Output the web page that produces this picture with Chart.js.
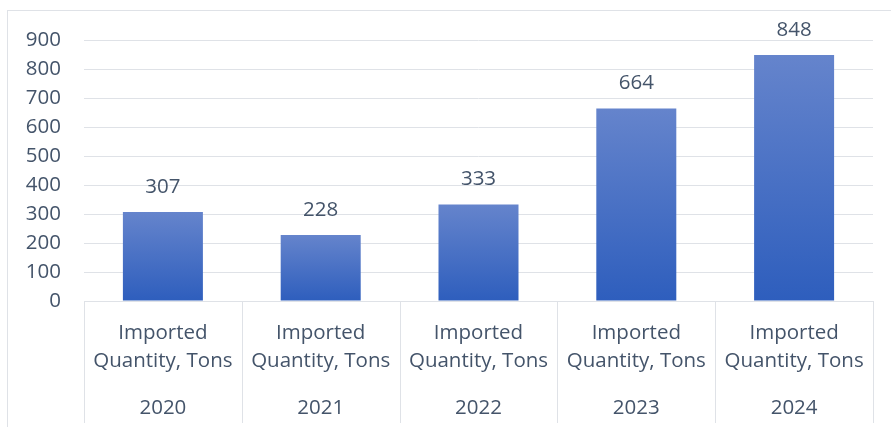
<!DOCTYPE html>
<html>
<head>
<meta charset="utf-8">
<script src="https://cdn.jsdelivr.net/npm/chart.js@4.4.1/dist/chart.umd.min.js"></script>
<style>
html,body{margin:0;padding:0;background:#fff;overflow:hidden}
#wrap{position:relative;width:891px;height:427px}
</style>
</head>
<body>
<div id="wrap"><canvas id="chart"></canvas></div>
<script>
// data
const years = ["2020","2021","2022","2023","2024"]
const seriesName = ["Imported","Quantity, Tons"]
const quantities = [307, 228, 333, 664, 848]
const yTicks = [0,100,200,300,400,500,600,700,800,900]

const textColor = "#44546a"
const lineColor = "#dfe2e7"
const fontFamily = "'Open Sans', sans-serif"
const fontSize = 20.5

// bar gradient (lighter at top, per bar)
function barFill(ctx){
  const chart = ctx.chart
  const y = chart.scales.y
  if(!y || ctx.raw === undefined) return "#4a72c8"
  const top = y.getPixelForValue(ctx.raw)
  const bottom = y.getPixelForValue(0)
  if(!isFinite(top) || !isFinite(bottom) || top === bottom) return "#4a72c8"
  const g = chart.ctx.createLinearGradient(0, top, 0, bottom)
  g.addColorStop(0, "#6584cc")
  g.addColorStop(1, "#2e5ebd")
  return g
}

// frame, category separators, value labels
const extras = {
  id:"extras",
  beforeDraw(chart){
    const c = chart.ctx
    c.save()
    c.strokeStyle = lineColor
    c.lineWidth = 1
    c.strokeRect(7.5, 10.5, 1000, 1000)
    c.restore()
  },
  afterDraw(chart){
    const c = chart.ctx
    const x = chart.scales.x
    const y = chart.scales.y
    const half = (x.getPixelForValue(1) - x.getPixelForValue(0)) / 2
    c.save()
    c.strokeStyle = lineColor
    c.lineWidth = 1
    for(let i=0;i<=years.length;i++){
      const px = Math.round(x.getPixelForValue(i) - half) + 0.5
      c.beginPath()
      c.moveTo(px, y.bottom)
      c.lineTo(px, 423)
      c.stroke()
    }
    c.fillStyle = textColor
    c.font = fontSize + "px " + fontFamily
    c.textAlign = "center"
    c.textBaseline = "middle"
    chart.getDatasetMeta(0).data.forEach((bar,i)=>{
      c.fillText(String(quantities[i]), bar.x, bar.y - 25)
    })
    c.restore()
  }
}

new Chart(document.getElementById("chart"),{
  type:"bar",
  data:{
    labels:years,
    datasets:[{
      label:seriesName.join(" "),
      data:quantities,
      backgroundColor:barFill,
      barPercentage:0.507,
      categoryPercentage:1
    }]
  },
  options:{
    responsive:true,
    maintainAspectRatio:false,
    animation:false,
    layout:{padding:{left:0,right:18,top:40,bottom:0}},
    plugins:{legend:{display:false},tooltip:{enabled:false}},
    scales:{
      x:{
        type:"category",
        position:"bottom",
        weight:0,
        grid:{display:true,drawOnChartArea:false,drawTicks:false},
        border:{display:true,color:lineColor},
        ticks:{
          color:textColor,
          font:{family:fontFamily,size:fontSize,lineHeight:"28px"},
          padding:18,
          maxRotation:0,
          autoSkip:false,
          callback:()=>seriesName
        },
        afterFit:s=>{s.height=80}
      },
      x2:{
        type:"category",
        labels:years,
        position:"bottom",
        weight:1,
        offset:true,
        grid:{display:false},
        border:{display:false},
        ticks:{
          color:textColor,
          font:{family:fontFamily,size:fontSize,lineHeight:"28px"},
          padding:5,
          maxRotation:0,
          autoSkip:false
        },
        afterFit:s=>{s.height=46}
      },
      y:{
        min:0,
        max:900,
        afterBuildTicks:s=>{s.ticks=yTicks.map(v=>({value:v}))},
        grid:{color:lineColor,lineWidth:1,drawTicks:false},
        border:{display:false},
        ticks:{
          color:textColor,
          font:{family:fontFamily,size:fontSize},
          padding:23
        },
        afterFit:s=>{s.width=84}
      }
    }
  },
  plugins:[extras]
})
</script>
</body>
</html>
